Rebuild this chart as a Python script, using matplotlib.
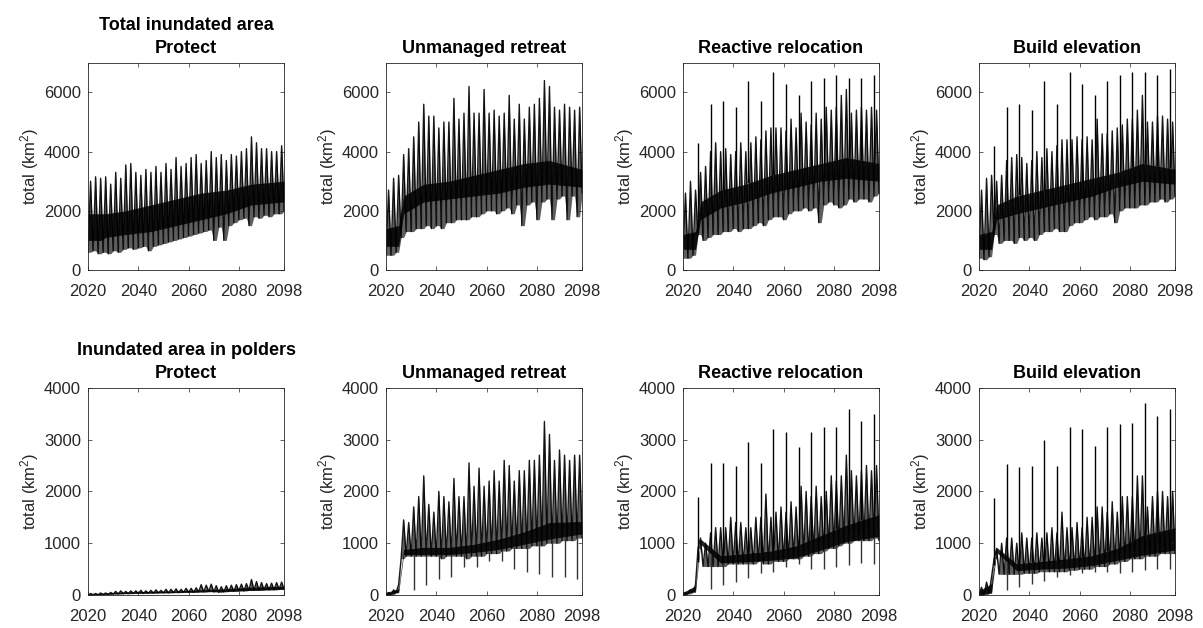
import numpy as np
import matplotlib
matplotlib.use('Agg')
import matplotlib.pyplot as plt
from matplotlib import rc

rc('font', family=['Liberation Sans', 'DejaVu Sans'])
rc('mathtext', default='regular')

# data (km2)
years = np.arange(2020, 2099, 2)          # 2-year grid
core_years = [2020, 2025, 2027, 2035, 2045, 2055, 2065, 2075, 2085, 2098]
event_years = [2026, 2031, 2036, 2041, 2046, 2051, 2056, 2061, 2066, 2071, 2076, 2081, 2086, 2091, 2096]
dip_years = [2031, 2036, 2041, 2046, 2051, 2056, 2061, 2066, 2071, 2076, 2081, 2086, 2091, 2096]

# --- total inundated area ---
prot_tot_hi = [3000, 3150, 3100, 3150, 2900, 3300, 3100, 3550, 3600, 3300, 3200, 3400, 3300, 3500, 3300, 3600, 3400, 3800, 3500, 3600,
               3800, 3900, 3600, 3700, 4000, 3800, 3900, 3700, 3900, 3850, 4000, 4100, 4500, 4300, 4100, 4100, 4000, 4000, 4200, 4100]
prot_tot_lo = [600, 650, 550, 600, 550, 650, 600, 700, 750, 700, 750, 800, 650, 800, 850, 900, 950, 1000, 1050, 1100,
               1150, 1200, 1250, 1300, 1350, 1000, 1450, 1000, 1500, 1600, 1700, 1750, 1500, 1800, 1750, 1850, 1800, 1900, 1900, 2000]
prot_tot_core_lo = [1000, 1000, 1100, 1200, 1300, 1500, 1700, 1900, 2200, 2300]
prot_tot_core_hi = [1900, 1900, 1900, 2000, 2200, 2400, 2600, 2700, 2900, 3000]

unman_tot_hi = [2700, 3100, 3200, 3900, 4100, 4500, 5000, 5600, 5200, 5200, 4800, 5000, 5000, 5800, 5100, 5300, 6200, 5300, 5300, 6100,
                5300, 5400, 5200, 5300, 5900, 5100, 5600, 5100, 5500, 5600, 5800, 6400, 6200, 5500, 5400, 5600, 5500, 5400, 5500, 6000]
unman_tot_lo = [500, 500, 600, 1100, 1300, 1300, 1400, 1400, 1500, 1400, 1500, 1400, 1600, 1600, 1700, 1700, 1700, 1800, 1800, 1900,
                2000, 2000, 1900, 2000, 2100, 1900, 2200, 1500, 2200, 2300, 1700, 2300, 2400, 1700, 2400, 2500, 1700, 2500, 1800, 2600]
unman_tot_core_lo = [800, 800, 1900, 2300, 2400, 2500, 2600, 2800, 2900, 2800]
unman_tot_core_hi = [1400, 1500, 2500, 2900, 3000, 3200, 3400, 3600, 3700, 3400]

react_tot_hi = [2600, 3000, 2700, 3300, 3500, 4000, 4300, 4000, 4100, 3900, 4000, 4300, 4000, 4300, 4500, 4400, 4700, 4800, 4800, 4800,
                4700, 5100, 4800, 5300, 5000, 4900, 5300, 5100, 5500, 5400, 5500, 5900, 6100, 5300, 5400, 5500, 5400, 5500, 5400, 6100]
react_tot_lo = [400, 400, 500, 1200, 1000, 1100, 1200, 1200, 1300, 1300, 1400, 1300, 1400, 1400, 1500, 1600, 1500, 1700, 1800, 1800,
                1700, 1900, 2000, 2000, 2100, 2000, 2100, 1600, 2200, 2300, 2200, 2100, 2200, 2400, 2300, 2400, 2400, 2300, 2500, 2600]
react_tot_core_lo = [700, 700, 1700, 2100, 2300, 2600, 2800, 3000, 3100, 3000]
react_tot_core_hi = [1200, 1300, 2300, 2700, 2900, 3200, 3400, 3600, 3800, 3600]
react_tot_spikes = [4300, 5600, 5700, 5500, 6400, 5700, 6700, 6300, 5900, 6400, 6500, 6600, 6500, 6500, 6600]

elev_tot_hi = [2700, 3100, 3200, 3000, 3200, 3700, 3800, 3900, 3800, 3600, 3700, 4000, 3800, 4100, 4000, 4200, 4400, 4400, 4400, 4500,
               4400, 4500, 4400, 5100, 4600, 4600, 4700, 4800, 4900, 5100, 5100, 5400, 5900, 5000, 5000, 5200, 5200, 5100, 5000, 5600]
elev_tot_lo = [400, 350, 450, 1200, 900, 1000, 1000, 900, 1100, 1000, 1100, 1000, 1200, 1300, 1300, 1400, 1300, 1300, 1500, 1600,
               1600, 1700, 1800, 1700, 1800, 1800, 1900, 1600, 2000, 2100, 2100, 2100, 2200, 2200, 2300, 2300, 2400, 2300, 2400, 2500]
elev_tot_core_lo = [700, 700, 1700, 1900, 2100, 2300, 2500, 2800, 3000, 2900]
elev_tot_core_hi = [1200, 1300, 2200, 2500, 2700, 2900, 3100, 3300, 3600, 3400]
elev_tot_spikes = [4200, 5500, 5600, 5400, 6400, 5600, 6700, 6300, 5900, 6400, 6600, 6700, 6700, 6600, 6800]

# --- inundated area in polders ---
prot_pol_hi = [30, 30, 40, 40, 50, 70, 80, 70, 80, 80, 90, 80, 90, 100, 90, 110, 110, 120, 110, 130,
               130, 140, 200, 190, 210, 180, 160, 180, 190, 200, 210, 220, 300, 260, 240, 220, 230, 240, 250, 240]
prot_pol_lo = [0, 5, 5, 10, 10, 20, 20, 25, 25, 30, 30, 30, 35, 35, 40, 40, 40, 45, 45, 50,
               50, 50, 60, 60, 70, 60, 50, 60, 70, 70, 80, 80, 90, 90, 90, 100, 100, 100, 110, 110]
prot_pol_core_lo = [0, 10, 15, 30, 40, 50, 60, 70, 90, 110]
prot_pol_core_hi = [20, 30, 40, 60, 70, 80, 100, 120, 150, 170]

unman_pol_hi = [50, 100, 200, 1450, 1400, 1700, 1900, 2300, 1750, 1600, 2000, 1900, 1800, 2250, 1900, 1900, 2550, 2100, 2450, 2100,
                2200, 2400, 2200, 2600, 2500, 2200, 2400, 2400, 2600, 2600, 2700, 3350, 3100, 2600, 2800, 2700, 2600, 2700, 2700, 2900]
unman_pol_lo = [0, 0, 50, 700, 750, 750, 750, 750, 750, 750, 750, 700, 750, 750, 750, 750, 700, 750, 750, 750,
                800, 800, 800, 850, 850, 900, 900, 900, 900, 950, 950, 950, 1000, 1000, 1000, 1050, 1050, 1050, 1100, 1100]
unman_pol_core_lo = [0, 50, 780, 780, 780, 820, 880, 980, 1080, 1180]
unman_pol_core_hi = [50, 120, 880, 920, 920, 980, 1080, 1220, 1400, 1420]
unman_pol_dips = [100, 200, 300, 350, 550, 550, 650, 650, 500, 450, 400, 350, 350, 300]

react_pol_hi = [50, 100, 200, 1100, 1000, 1200, 1300, 1300, 1300, 1500, 1400, 1400, 1300, 1300, 1500, 1500, 1950, 1500, 1600, 1700,
                1600, 1800, 1700, 2100, 2000, 1900, 2100, 1900, 2000, 2300, 2200, 2300, 2700, 2400, 2300, 2400, 2500, 2400, 2500, 2700]
react_pol_lo = [0, 20, 50, 900, 550, 550, 550, 550, 550, 600, 600, 600, 600, 600, 600, 650, 600, 600, 650, 650,
                650, 700, 700, 700, 750, 750, 800, 800, 850, 900, 900, 950, 1000, 1000, 1050, 1050, 1050, 1050, 1100, 1050]
react_pol_core_lo = [0, 80, 980, 620, 640, 670, 720, 870, 1030, 1130]
react_pol_core_hi = [50, 180, 1080, 760, 800, 850, 950, 1150, 1350, 1550]
react_pol_spikes = [1900, 2550, 2550, 2500, 2950, 2550, 3200, 3150, 2850, 3150, 3250, 3250, 3600, 3350, 3500]
react_pol_dips = [110, 190, 250, 330, 430, 450, 550, 600, 500, 500, 550, 580, 620, 600]

elev_pol_hi = [150, 250, 350, 900, 1000, 1100, 1100, 1000, 1200, 1100, 1100, 1200, 1100, 1200, 1300, 1200, 1600, 1300, 1300, 1400,
               1300, 1500, 1500, 1700, 1700, 1600, 1800, 1600, 1900, 1900, 1900, 2300, 2300, 1700, 1900, 2000, 2000, 1900, 2000, 2100]
elev_pol_lo = [0, 0, 30, 700, 400, 400, 400, 400, 400, 420, 420, 420, 450, 450, 450, 450, 450, 450, 480, 480,
               500, 500, 500, 550, 550, 550, 600, 600, 650, 650, 700, 700, 700, 750, 750, 750, 800, 800, 800, 800]
elev_pol_core_lo = [0, 50, 820, 470, 500, 520, 570, 670, 770, 870]
elev_pol_core_hi = [80, 220, 920, 600, 650, 700, 760, 900, 1150, 1300]
elev_pol_spikes = [1870, 2520, 2470, 2490, 3000, 2500, 3250, 3200, 2880, 3240, 3300, 3320, 3700, 3460, 3600]
elev_pol_dips = [100, 150, 210, 280, 350, 380, 420, 450, 450, 420, 450, 480, 500, 500]

titles = ['Protect', 'Unmanaged retreat', 'Reactive relocation', 'Build elevation']
row_titles = ['Total inundated area', 'Inundated area in polders']

panels = [
    [(prot_tot_hi, prot_tot_lo, prot_tot_core_lo, prot_tot_core_hi, None, None),
     (unman_tot_hi, unman_tot_lo, unman_tot_core_lo, unman_tot_core_hi, None, None),
     (react_tot_hi, react_tot_lo, react_tot_core_lo, react_tot_core_hi, react_tot_spikes, None),
     (elev_tot_hi, elev_tot_lo, elev_tot_core_lo, elev_tot_core_hi, elev_tot_spikes, None)],
    [(prot_pol_hi, prot_pol_lo, prot_pol_core_lo, prot_pol_core_hi, None, None),
     (unman_pol_hi, unman_pol_lo, unman_pol_core_lo, unman_pol_core_hi, None, unman_pol_dips),
     (react_pol_hi, react_pol_lo, react_pol_core_lo, react_pol_core_hi, react_pol_spikes, react_pol_dips),
     (elev_pol_hi, elev_pol_lo, elev_pol_core_lo, elev_pol_core_hi, elev_pol_spikes, elev_pol_dips)],
]

fig = plt.figure(figsize=(12.03, 6.28), dpi=100)
lefts = [0.0732, 0.3209, 0.5677, 0.8138]
bottoms = [0.570, 0.0525]
ylims = [7000, 4000]
yticks = [[0, 2000, 4000, 6000], [0, 1000, 2000, 3000, 4000]]
grey = '#262626'

for r in range(2):
    for c in range(4):
        hi, lo, clo, chi, spikes, dips = panels[r][c]
        ax = fig.add_axes([lefts[c], bottoms[r], 0.163, 0.330])
        # oscillating series: trough then peak, shaded down to the trough level
        x = np.column_stack([years, years + 1]).ravel()
        y = np.column_stack([lo, hi]).ravel()
        ax.fill_between(x, np.repeat(lo, 2), y, color='#5e5e5e', lw=0)
        ax.plot(x, y, color='k', lw=1.0, alpha=0.9)
        ax.fill_between(core_years, clo, chi, color='k', alpha=0.85, lw=0)
        if spikes is not None:
            base = np.interp(event_years, core_years, chi)
            ax.vlines(event_years, base, spikes, color='k', lw=1.0)
        if dips is not None:
            base = np.interp(dip_years, core_years, clo)
            ax.vlines(dip_years, dips, base, color='#333333', lw=1.0)

        ax.set_xlim(2020, 2098)
        ax.set_ylim(0, ylims[r])
        ax.set_xticks([2020, 2040, 2060, 2080, 2098])
        ax.set_yticks(yticks[r])
        ax.tick_params(direction='in', top=True, right=True, length=3, width=0.5,
                       colors=grey, labelsize=12)
        ax.tick_params(axis='x', pad=10)
        ax.tick_params(axis='y', pad=5)
        for s in ax.spines.values():
            s.set_color(grey)
            s.set_linewidth(0.6)
        ax.set_ylabel('total (km$^2$)', fontsize=12, color=grey, labelpad=2)
        if c == 0:
            ax.set_title(row_titles[r] + '\n' + titles[c], fontsize=13, fontweight='bold',
                         pad=7, linespacing=1.45)
        else:
            ax.set_title(titles[c], fontsize=13, fontweight='bold', pad=7)

fig.savefig('out.png', dpi=100, facecolor='white')
